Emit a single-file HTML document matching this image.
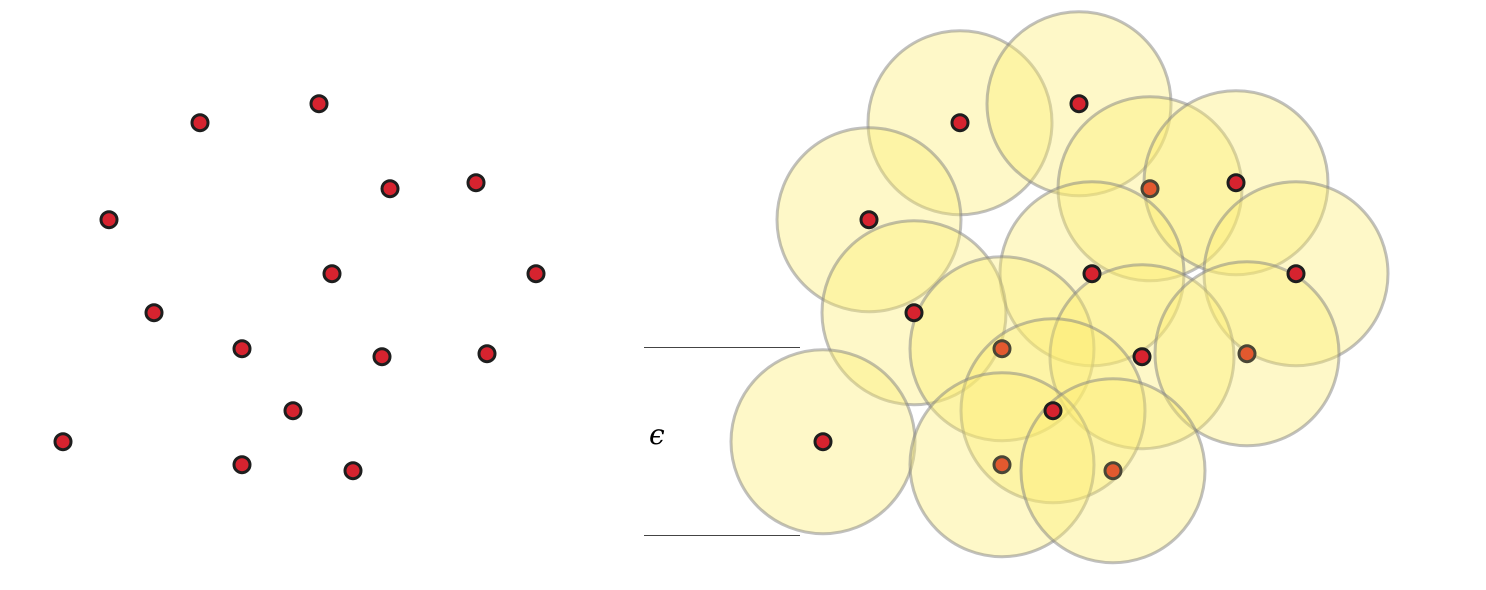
<!DOCTYPE html>
<html><head><meta charset="utf-8"><style>html,body{margin:0;padding:0;background:#fff}svg{display:block}</style></head>
<body>
<svg id="chart" width="1486" height="590" viewBox="0 0 1486 590" xmlns="http://www.w3.org/2000/svg">
<g id="left" transform="translate(1,0.7)"></g>
<g id="right" transform="translate(1,0.7)"></g>
<line x1="644" y1="347.5" x2="800" y2="347.5" stroke="#444" stroke-width="1"/>
<line x1="644" y1="535.5" x2="800" y2="535.5" stroke="#444" stroke-width="1"/>
<text x="649" y="444" font-family="'DejaVu Serif','Liberation Serif',serif" font-style="italic" font-size="28" fill="#000">ϵ</text>
</svg>
<script>
const xs = [199,318,389,475,108,331,535,153,241,381,486,292,62,241,352];
const ys = [122,103,188,182,219,273,273,312,348,356,353,410,441,464,470];
const covered = [2,8,10,13,14];
const eps = 92;
const shift = 760;
const NS='http://www.w3.org/2000/svg';
const L=document.getElementById('left'), R=document.getElementById('right');
function dot(g,x,y,tint){
  const c=document.createElementNS(NS,'circle');
  c.setAttribute('cx',x);c.setAttribute('cy',y);c.setAttribute('r',8);
  c.setAttribute('fill',tint?'#e2592f':'#d6232f');c.setAttribute('stroke',tint?'#4a4636':'#1e1e1e');c.setAttribute('stroke-width',3);
  
  
  g.appendChild(c);
}
for(let i=0;i<xs.length;i++){ dot(L,xs[i],ys[i],false); }
for(let i=0;i<xs.length;i++){
  const c=document.createElementNS(NS,'circle');
  c.setAttribute('cx',xs[i]+shift);c.setAttribute('cy',ys[i]);c.setAttribute('r',eps);
  c.setAttribute('fill','rgba(252,236,110,0.38)');c.setAttribute('stroke','rgba(130,130,130,0.5)');c.setAttribute('stroke-width',3);
  
  
  R.appendChild(c);
}
for(let i=0;i<xs.length;i++){ dot(R,xs[i]+shift,ys[i],covered.indexOf(i)>=0); }
</script>
</body></html>
